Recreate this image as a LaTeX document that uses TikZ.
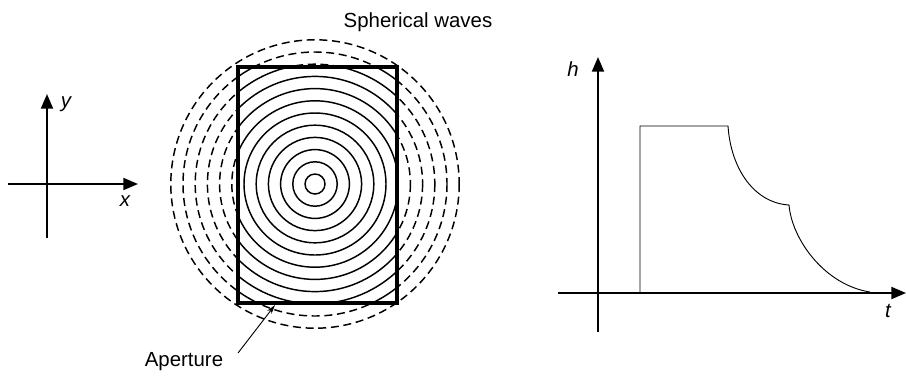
\documentclass[tikz,border=0pt]{standalone}
\usepackage{fontspec}
\setmainfont{Liberation Sans}
\usetikzlibrary{arrows.meta,positioning}
\tikzset{
  axe/.style={-{Triangle[length=11pt,width=9pt]},line width=1.5pt},
  onde/.style={line width=1.1pt},
  ondepointillee/.style={onde,dash pattern=on 6pt off 3.5pt},
  ouverture/.style={line width=2.3pt},
  courbe/.style={line width=0.7pt,line join=miter},
  fleche/.style={-{Stealth[length=7pt,width=4pt]},line width=0.7pt},
  etiquette/.style={font=\fontsize{15.3}{18}\selectfont,inner sep=1pt},
  lettre/.style={etiquette,font=\fontsize{15.3}{18}\selectfont\itshape},
}

\begin{document}
\begin{tikzpicture}[x=0.75pt,y=-0.75pt]
  \useasboundingbox (0,0) rectangle (906,376);
  % repere (x,y)
  \coordinate (xg) at (8,184);
  \coordinate (xd) at (138,184);
  \coordinate (yb) at (47,238);
  \coordinate (yh) at (47,94);
  \draw[axe] (xg) -- (xd);
  \draw[axe] (yb) -- (yh);
  \node[lettre] (lx) at (125,201) {x};
  \node[lettre] (ly) at (66,104) {y};
  % ondes spheriques
  \coordinate (centre) at (315,184);
  \foreach \k in {7,...,12}
    \draw[ondepointillee] (centre) circle ({10+12.2*(\k-1)});
  \fill[white] (238,67) rectangle (397,303);
  \begin{scope}
    \clip (238,67) rectangle (397,303);
    \foreach \k in {1,...,12}
      \draw[onde] (centre) circle ({10+12.2*(\k-1)});
  \end{scope}
  \draw[ouverture] (238,67) rectangle (397,303);
  \node[etiquette] (ondes) at (418,22) {Spherical waves};
  \node[etiquette] (aperture) at (184,362) {Aperture};
  \coordinate (queue) at (238,353);
  \coordinate (pointe) at (275,305);
  \draw[fleche] (queue) -- (pointe);
  % reponse h(t)
  \coordinate (tg) at (558,293);
  \coordinate (td) at (906,293);
  \coordinate (hb) at (598,332);
  \coordinate (hh) at (598,57);
  \draw[axe] (tg) -- (td);
  \draw[axe] (hb) -- (hh);
  \node[lettre] (lh) at (573,69) {h};
  \node[lettre] (lt) at (888,311) {t};
  \draw[courbe] (640,293) -- (640,126) -- (728,126)
    .. controls (731,170) and (755,203) .. (789,205)
    .. controls (792,240) and (825,285) .. (870,292);
\end{tikzpicture}
\end{document}
